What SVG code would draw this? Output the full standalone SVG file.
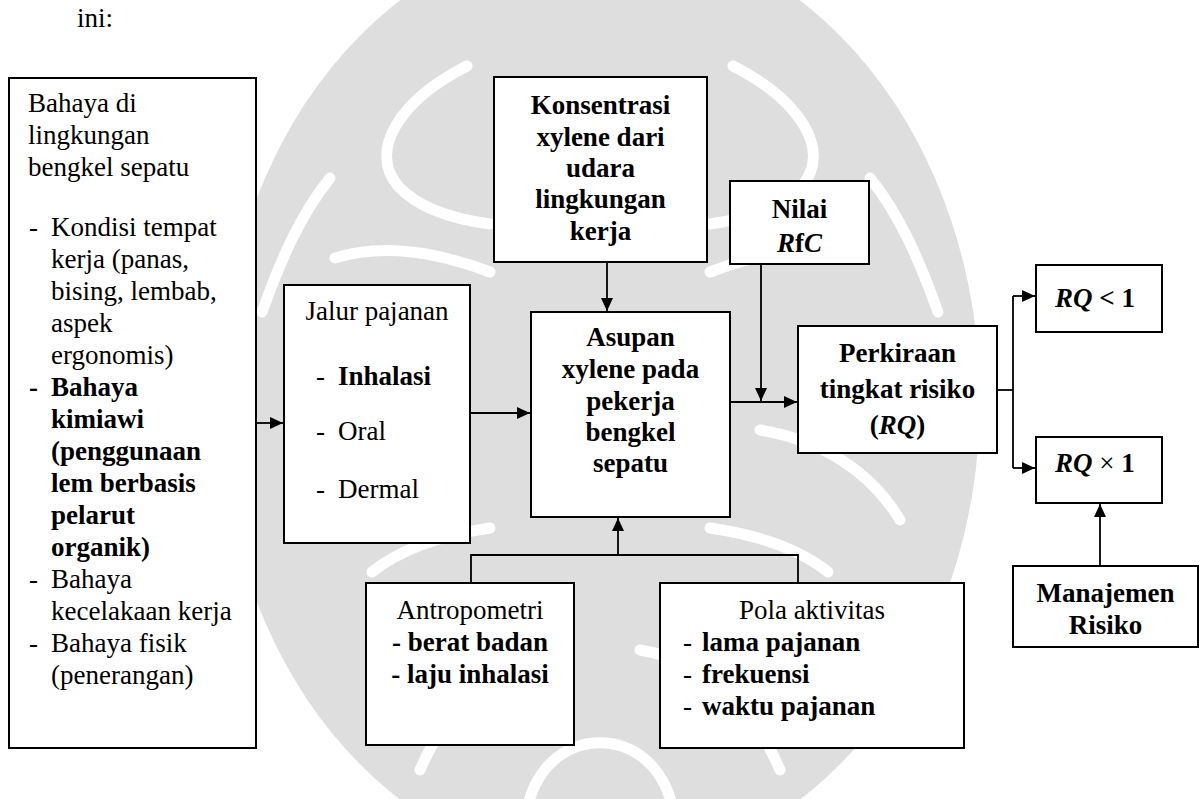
<svg xmlns="http://www.w3.org/2000/svg" width="1199" height="799" viewBox="0 0 1199 799">
  <defs>
    <style>
      .box { fill: #fff; stroke: #000; stroke-width: 2; }
      .wire { fill: none; stroke: #000; stroke-width: 1.8; }
      .mark { fill: #dedede; }
      .gap { fill: none; stroke: #fff; stroke-width: 11; stroke-linecap: round; }
      text { font-family: "Liberation Serif", "Times New Roman", serif; font-size: 27px; fill: #000; }
      .bd { font-weight: bold; }
      .it { font-style: italic; }
      .nb { font-weight: normal; }
      .c { text-anchor: middle; }
    </style>
    <marker id="arrow" markerUnits="userSpaceOnUse" markerWidth="14" markerHeight="12" refX="13" refY="6" orient="auto">
      <path d="M0,0 L13,6 L0,12 z" fill="#000"/>
    </marker>
    <!-- one half of the emblem's curled bands, mirrored for the other half -->
    <g id="half">
      <path class="gap" d="M467,66 C400,100 368,150 398,186 C420,210 460,220 490,224"/>
      <path class="gap" d="M330,178 C300,215 280,262 262,312"/>
      <path class="gap" d="M335,258 C380,244 432,250 490,272"/>
      <path class="gap" d="M372,572 C402,548 442,535 490,528"/>
      <path class="gap" d="M300,520 C330,470 380,440 440,430"/>
      <path class="gap" d="M420,770 C450,700 500,660 560,650"/>
    </g>
  </defs>

  <rect x="0" y="0" width="1199" height="799" fill="#fff"/>

  <!-- faint emblem behind the chart -->
  <g id="emblem">
    <ellipse class="mark" cx="600" cy="400" rx="380" ry="470"/>
    <use href="#half"/>
    <use href="#half" transform="translate(1200 0) scale(-1 1)"/>
    <path class="gap" d="M528,805 C548,722 652,722 672,805"/>
  </g>

  <text x="77" y="27">ini:</text>

  <!-- connectors -->
  <g id="connectors">
    <path class="wire" d="M256,423 H283" marker-end="url(#arrow)"/>
    <path class="wire" d="M470,413 H530" marker-end="url(#arrow)"/>
    <path class="wire" d="M607,263 V311" marker-end="url(#arrow)"/>
    <path class="wire" d="M730,402 H797" marker-end="url(#arrow)"/>
    <path class="wire" d="M761,264 V401" marker-end="url(#arrow)"/>
    <path class="wire" d="M997,390 H1013"/>
    <path class="wire" d="M1013,296 V468"/>
    <path class="wire" d="M1013,296 H1035" marker-end="url(#arrow)"/>
    <path class="wire" d="M1013,468 H1035" marker-end="url(#arrow)"/>
    <path class="wire" d="M1100,566 V504" marker-end="url(#arrow)"/>
    <path class="wire" d="M471,583 V555 H798 V583"/>
    <path class="wire" d="M618,555 V518" marker-end="url(#arrow)"/>
  </g>

  <!-- hazards in the workshop -->
  <g id="bahaya">
    <rect class="box" x="9" y="78" width="247" height="670"/>
    <text x="28" y="112">Bahaya di</text>
    <text x="28" y="144">lingkungan</text>
    <text x="28" y="176">bengkel sepatu</text>
    <text x="29" y="236">-</text><text x="51" y="236">Kondisi tempat</text>
    <text x="51" y="268">kerja (panas,</text>
    <text x="51" y="300">bising, lembab,</text>
    <text x="51" y="332">aspek</text>
    <text x="51" y="364">ergonomis)</text>
    <text class="bd" x="29" y="396">-</text><text class="bd" x="51" y="396">Bahaya</text>
    <text class="bd" x="51" y="428">kimiawi</text>
    <text class="bd" x="51" y="460">(penggunaan</text>
    <text class="bd" x="51" y="492">lem berbasis</text>
    <text class="bd" x="51" y="524">pelarut</text>
    <text class="bd" x="51" y="556">organik)</text>
    <text x="29" y="588">-</text><text x="51" y="588">Bahaya</text>
    <text x="51" y="620">kecelakaan kerja</text>
    <text x="29" y="652">-</text><text x="51" y="652">Bahaya fisik</text>
    <text x="51" y="684">(penerangan)</text>
  </g>

  <!-- exposure routes -->
  <g id="jalur">
    <rect class="box" x="284" y="285" width="186" height="258"/>
    <text class="c" x="377" y="320">Jalur pajanan</text>
    <text x="316" y="385">-</text><text class="bd" x="338" y="385">Inhalasi</text>
    <text x="316" y="440">-</text><text x="338" y="440">Oral</text>
    <text x="316" y="498">-</text><text x="338" y="498">Dermal</text>
  </g>

  <!-- xylene concentration -->
  <g id="konsentrasi">
    <rect class="box" x="494" y="77" width="213" height="185"/>
    <text class="bd c" x="600.5" y="114">Konsentrasi</text>
    <text class="bd c" x="600.5" y="146">xylene dari</text>
    <text class="bd c" x="600.5" y="177">udara</text>
    <text class="bd c" x="600.5" y="208">lingkungan</text>
    <text class="bd c" x="600.5" y="240">kerja</text>
  </g>

  <!-- reference concentration -->
  <g id="rfc">
    <rect class="box" x="730" y="181" width="139" height="83"/>
    <text class="bd c" x="799.5" y="218">Nilai</text>
    <text class="bd c" x="799.5" y="252"><tspan class="it">R</tspan>f<tspan class="it">C</tspan></text>
  </g>

  <!-- xylene intake -->
  <g id="asupan">
    <rect class="box" x="531" y="312" width="199" height="205"/>
    <text class="bd c" x="630.5" y="346">Asupan</text>
    <text class="bd c" x="630.5" y="378">xylene pada</text>
    <text class="bd c" x="630.5" y="410">pekerja</text>
    <text class="bd c" x="630.5" y="441">bengkel</text>
    <text class="bd c" x="630.5" y="472">sepatu</text>
  </g>

  <!-- risk estimate -->
  <g id="perkiraan">
    <rect class="box" x="798" y="326" width="199" height="127"/>
    <text class="bd c" x="897.5" y="362">Perkiraan</text>
    <text class="bd c" x="897.5" y="398">tingkat risiko</text>
    <text class="bd c" x="897.5" y="434">(<tspan class="it">RQ</tspan>)</text>
  </g>

  <!-- outcomes -->
  <g id="rq-kecil">
    <rect class="box" x="1036" y="265" width="126" height="67"/>
    <text class="bd" x="1055" y="307"><tspan class="it">RQ</tspan> &lt; 1</text>
  </g>
  <g id="rq-besar">
    <rect class="box" x="1036" y="437" width="126" height="66"/>
    <text class="bd" x="1055" y="472"><tspan class="it">RQ</tspan> <tspan class="nb">×</tspan> 1</text>
  </g>

  <!-- risk management -->
  <g id="manajemen">
    <rect class="box" x="1013" y="566" width="185" height="81"/>
    <text class="bd c" x="1105.5" y="602">Manajemen</text>
    <text class="bd c" x="1105.5" y="634">Risiko</text>
  </g>

  <!-- anthropometry -->
  <g id="antropometri">
    <rect class="box" x="366" y="583" width="208" height="162"/>
    <text class="c" x="470" y="619">Antropometri</text>
    <text class="bd c" x="470" y="651">- berat badan</text>
    <text class="bd c" x="470" y="683">- laju inhalasi</text>
  </g>

  <!-- activity pattern -->
  <g id="pola">
    <rect class="box" x="660" y="583" width="304" height="165"/>
    <text class="c" x="812" y="619">Pola aktivitas</text>
    <text x="683" y="651">-</text><text class="bd" x="702" y="651">lama pajanan</text>
    <text x="683" y="683">-</text><text class="bd" x="702" y="683">frekuensi</text>
    <text x="683" y="715">-</text><text class="bd" x="702" y="715">waktu pajanan</text>
  </g>
</svg>
